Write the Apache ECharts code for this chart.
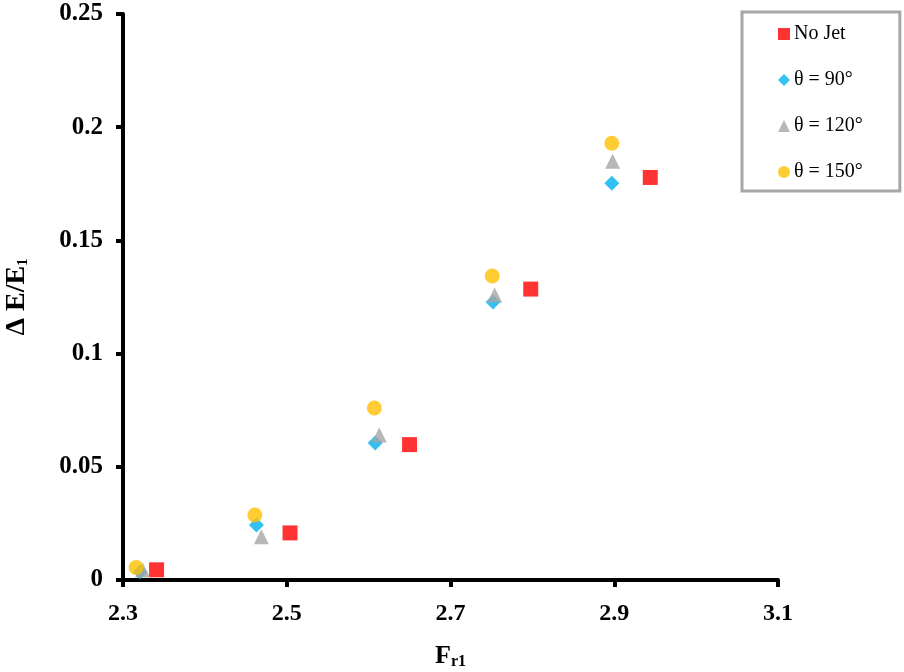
<!DOCTYPE html>
<html>
<head>
<meta charset="utf-8">
<script src="https://cdn.jsdelivr.net/npm/echarts@6/dist/echarts.min.js"></script>
<style>html,body{margin:0;padding:0;background:#fff}#c{width:904px;height:672px}</style>
</head>
<body>
<div id="c"></div>
<script>
const seriesNames = ['No Jet', 'θ = 90°', 'θ = 120°', 'θ = 150°'];
const noJetX = [2.341, 2.504, 2.650, 2.798, 2.944];
const noJetY = [0.0045, 0.0208, 0.0598, 0.1285, 0.1778];
const t90X = [2.321, 2.463, 2.608, 2.752, 2.897];
const t90Y = [0.0035, 0.0243, 0.0605, 0.1228, 0.1752];
const t120X = [2.324, 2.469, 2.613, 2.754, 2.898];
const t120Y = [0.0044, 0.0191, 0.0640, 0.1259, 0.1850];
const t150X = [2.316, 2.461, 2.607, 2.751, 2.897];
const t150Y = [0.0055, 0.0287, 0.0760, 0.1343, 0.1929];
const xTicks = [2.3, 2.5, 2.7, 2.9, 3.1];
const yTicks = [0, 0.05, 0.1, 0.15, 0.2, 0.25];

const pairs = (xs, ys) => xs.map((x, i) => [x, ys[i]]);
const font = 'Liberation Serif';
const chart = echarts.init(document.getElementById('c'), null, {renderer: 'canvas'});
const styles = [
  {symbol: 'rect', size: 15, color: '#ff0000', data: pairs(noJetX, noJetY)},
  {symbol: 'diamond', size: 15, color: '#00b0f0', data: pairs(t90X, t90Y)},
  {symbol: 'triangle', size: 15, color: '#a5a5a5', data: pairs(t120X, t120Y)},
  {symbol: 'circle', size: 15, color: '#ffc000', data: pairs(t150X, t150Y)}
];
chart.setOption({
  animation: false,
  backgroundColor: '#fff',
  grid: {left: 123, right: 126, top: 14, bottom: 92, containLabel: false, outerBoundsMode: 'none'},
  legend: {
    orient: 'vertical', left: 742, top: 12,
    padding: [12, 37, 9, 36],
    borderColor: '#a6a6a6', borderWidth: 3,
    itemWidth: 12, itemHeight: 12, itemGap: 26,
    textStyle: {fontFamily: font, fontSize: 20, color: '#000', lineHeight: 20, padding: [0,0,0,-1]},
    data: seriesNames.map((n, i) => ({name: n, icon: styles[i].symbol}))
  },
  xAxis: {
    type: 'value', min: 2.3, max: 3.1,
    name: '{a|F}{s|r1}', nameLocation: 'middle', nameGap: 62,
    nameTextStyle: {rich: {
      a: {fontFamily: font, fontWeight: 'bold', fontSize: 26, color: '#000'},
      s: {fontFamily: font, fontWeight: 'bold', fontSize: 16, color: '#000', verticalAlign: 'bottom', padding: [12, 0, 0, 0]}
    }},
    axisLine: {onZero: false, lineStyle: {color: '#000', width: 4}},
    axisTick: {show: true, length: 7, lineStyle: {color: '#000', width: 4}, customValues: xTicks},
    axisLabel: {customValues: xTicks, margin: 22, fontFamily: font, fontWeight: 'bold', fontSize: 24, color: '#000',
      formatter: v => v.toFixed(1)},
    splitLine: {show: false}
  },
  yAxis: {
    type: 'value', min: 0, max: 0.25, interval: 0.05,
    name: '{a|Δ E/E}{s|1}', nameLocation: 'middle', nameGap: 92, nameRotate: 90,
    nameTextStyle: {rich: {
      a: {fontFamily: font, fontWeight: 'bold', fontSize: 28, color: '#000'},
      s: {fontFamily: font, fontWeight: 'bold', fontSize: 15, color: '#000', verticalAlign: 'bottom', padding: [12, 0, 0, 0]}
    }},
    axisLine: {show: true, lineStyle: {color: '#000', width: 4}},
    axisTick: {show: true, length: 7, lineStyle: {color: '#000', width: 4}},
    axisLabel: {margin: 20, fontFamily: font, fontWeight: 'bold', fontSize: 25, color: '#000',
      formatter: v => String(+v.toFixed(2))},
    splitLine: {show: false}
  },
  series: styles.map((s, i) => ({
    name: seriesNames[i], type: 'scatter', symbol: s.symbol, symbolSize: s.size,
    itemStyle: {color: s.color}, data: s.data, z: 2 + i
  }))
});
</script>
</body>
</html>
